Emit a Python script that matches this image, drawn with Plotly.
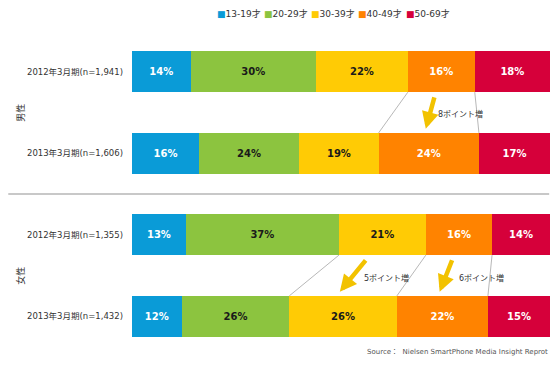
import plotly.graph_objects as go

categories = ["2012年3月期(n=1,941)", "2013年3月期(n=1,606)",
              "2012年3月期(n=1,355)", "2013年3月期(n=1,432)"]
groups = ["男性", "女性"]
series_names = ["13-19才", "20-29才", "30-39才", "40-49才", "50-69才"]
v13_19 = [14, 16, 13, 12]
v20_29 = [30, 24, 37, 26]
v30_39 = [22, 19, 21, 26]
v40_49 = [16, 24, 16, 22]
v50_69 = [18, 17, 14, 15]
series_values = [v13_19, v20_29, v30_39, v40_49, v50_69]

# connectors: (row of 2012 bar, series indices whose left edges are linked)
connectors = [(0, [3, 4]), (2, [2, 3, 4])]
# change callouts: (row of 2012 bar, series index, label)
changes = [(0, 3, "8ポイント増"), (2, 2, "5ポイント増"), (2, 3, "6ポイント増")]

colors = ["#0A9BD7", "#8CC43F", "#FFCB05", "#FF8300", "#D6003A"]
text_colors = ["#FFFFFF", "#1A1A1A", "#1A1A1A", "#FFFFFF", "#FFFFFF"]
FONT = "DejaVu Sans, Noto Sans CJK JP, sans-serif"

# normalized left edges (percent), same as barnorm='percent'
totals = [sum(s[r] for s in series_values) for r in range(len(categories))]
def left_edge(r, s):
    return sum(series_values[k][r] for k in range(s)) / totals[r] * 100
def right_edge(r, s):
    return left_edge(r, s + 1) if s + 1 < len(series_values) else 100.0

fig = go.Figure()
for name, vals, c, tc in zip(series_names, series_values, colors, text_colors):
    fig.add_trace(go.Bar(
        y=categories, x=vals, name=name, orientation="h",
        marker=dict(color=c, line=dict(width=0)),
        text=[f"<b>{v}%</b>" for v in vals], textposition="inside",
        insidetextanchor="middle", textangle=0,
        textfont=dict(color=tc, size=10, family=FONT),
        showlegend=False, width=0.5,
    ))

shapes = []
annotations = []

# connector lines between bars
for r, sidx in connectors:
    for s in sidx:
        shapes.append(dict(type="line", xref="x", yref="y",
                           x0=left_edge(r, s), y0=r + 0.25,
                           x1=left_edge(r + 1, s), y1=r + 1 - 0.25,
                           line=dict(color="#B8B8B8", width=1), layer="below"))

# arrows + labels
arrow_ax = [9, 27, 13]
label_shift = [10, 22, 17]
for (r, s, lab), ax, ls in zip(changes, arrow_ax, label_shift):
    lo, hi = left_edge(r + 1, s), right_edge(r + 1, s)
    tip = lo + 0.47 * (hi - lo)
    annotations.append(dict(x=tip, y=r + 0.7, xref="x", yref="y", text="",
                            showarrow=True, ax=ax, ay=-33, arrowhead=2,
                            arrowsize=0.75, arrowwidth=4.5, arrowcolor="#F2C200"))
    annotations.append(dict(x=tip, y=r + 0.5, xref="x", yref="y", text=lab,
                            showarrow=False, xanchor="left", xshift=ls,
                            yshift=-1 if r == 0 else -2,
                            font=dict(size=8, color="#333333", family=FONT)))

# group labels
for i, g in enumerate(groups):
    annotations.append(dict(x=-0.285, y=2 * i + 0.5, xref="paper", yref="y",
                            text=g, textangle=-90, showarrow=False,
                            font=dict(size=9, color="#333333", family=FONT)))

# separator
shapes.append(dict(type="line", xref="paper", yref="y", x0=-0.296, x1=0.998,
                   y0=1.5, y1=1.5, line=dict(color="#C8C8C8", width=2)))

# custom legend
for i, (name, c) in enumerate(zip(series_names, colors)):
    annotations.append(dict(x=0.198 + i * 0.113, y=1.055, xref="paper", yref="paper",
                            text=f"<span style='color:{c}'>■</span>{name}",
                            showarrow=False, xanchor="left", yanchor="middle",
                            font=dict(size=9, color="#333333", family=FONT)))

# source
annotations.append(dict(x=1.0, y=0.014, xref="paper", yref="paper",
                        text="Source：  Nielsen SmartPhone Media Insight Reprot",
                        showarrow=False, xanchor="right", yanchor="middle",
                        font=dict(size=7, color="#555555", family=FONT)))

# page body has an 8px margin, so the figure is sized to fit the window
fig.update_layout(
    width=544, height=350,
    margin=dict(l=124, r=2, t=23, b=1),
    barmode="stack", barnorm="percent",
    plot_bgcolor="white", paper_bgcolor="white",
    xaxis=dict(visible=False, range=[0, 100], fixedrange=True),
    yaxis=dict(categoryorder="array", categoryarray=categories,
               autorange="reversed", showgrid=False, zeroline=False,
               showline=False, ticks="", ticklabelstandoff=8,
               tickfont=dict(size=8.5, color="#333333", family=FONT)),
    shapes=shapes, annotations=annotations,
    uniformtext=dict(mode=False),
)

fig.write_html("out.html")
